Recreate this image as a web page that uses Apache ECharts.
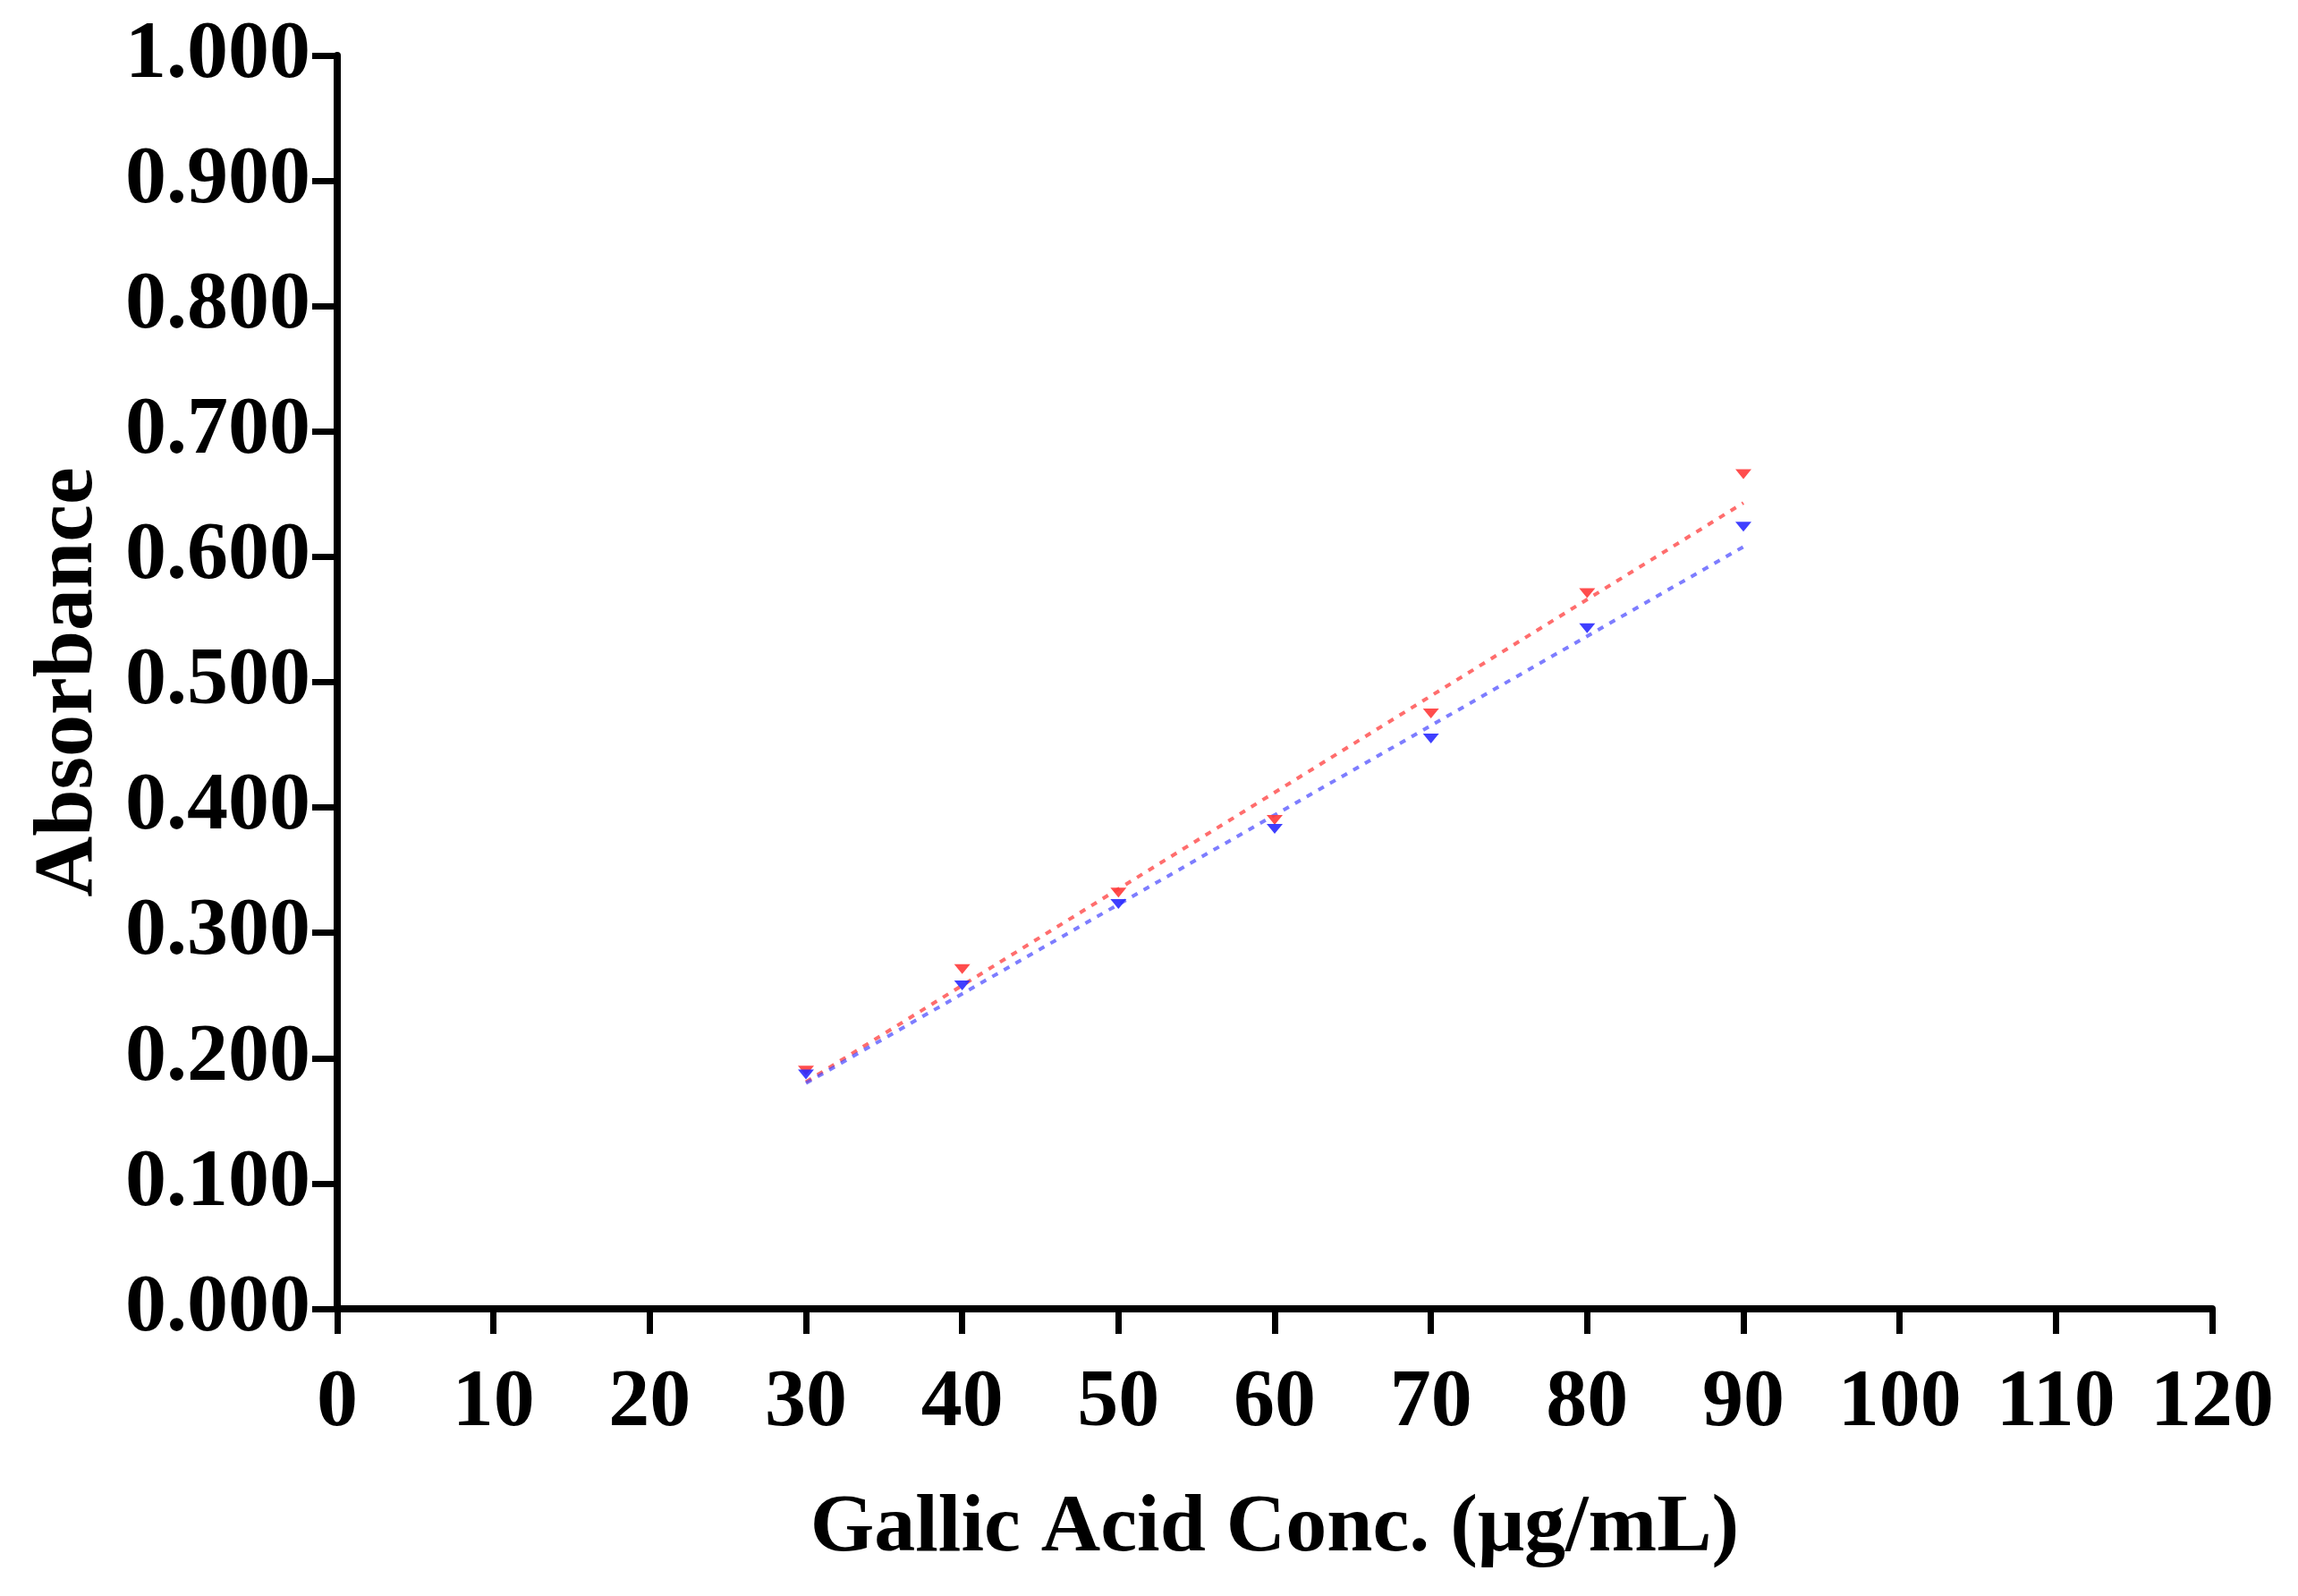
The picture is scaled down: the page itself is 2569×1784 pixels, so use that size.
<!DOCTYPE html>
<html>
<head>
<meta charset="utf-8">
<script src="https://cdn.jsdelivr.net/npm/echarts@6/dist/echarts.min.js"></script>
<style>
  html, body { margin: 0; padding: 0; background: #fff; }
  #chart { width: 2569px; height: 1784px; }
</style>
</head>
<body>
<div id="chart"></div>
<script>
// values
const concentrations = [30, 40, 50, 60, 70, 80, 90]
const absorbanceRed = [0.190, 0.271, 0.332, 0.390, 0.475, 0.571, 0.666]
const absorbanceBlue = [0.187, 0.258, 0.323, 0.383, 0.455, 0.543, 0.624]
// trend line end points (x, y) as drawn
const fitRed = [[30, 0.181], [90, 0.643]]
const fitBlue = [[30, 0.180], [90, 0.608]]

const xTitle = 'Gallic Acid Conc. (μg/mL)'
const yTitle = 'Absorbance'

const font = '"Liberation Serif", "DejaVu Serif", serif'

const pairs = (xs, ys) => xs.map((x, i) => [x, ys[i]])

const option = {
  backgroundColor: '#fff',
  animation: false,
  grid: { left: 377, top: 62, right: 96, bottom: 321, containLabel: false, outerBoundsMode: 'none' },
  xAxis: {
    type: 'value',
    min: 0,
    max: 120,
    interval: 10,
    name: xTitle,
    nameLocation: 'middle',
    nameGap: 200,
    nameTextStyle: { fontFamily: font, fontWeight: 'bold', fontSize: 92, color: '#000' },
    axisLine: { show: true, onZero: false, lineStyle: { color: '#000', width: 8 } },
    axisTick: { show: true, inside: false, length: 28, lineStyle: { color: '#000', width: 7 } },
    axisLabel: { margin: 60, fontFamily: font, fontWeight: 'bold', fontSize: 92, color: '#000' },
    splitLine: { show: false }
  },
  yAxis: {
    type: 'value',
    min: 0,
    max: 1,
    interval: 0.1,
    name: yTitle,
    nameLocation: 'middle',
    nameGap: 252,
    nameTextStyle: { fontFamily: font, fontWeight: 'bold', fontSize: 94, color: '#000' },
    axisLine: { show: true, onZero: false, lineStyle: { color: '#000', width: 8 } },
    axisTick: { show: true, inside: false, length: 28, lineStyle: { color: '#000', width: 7 } },
    axisLabel: {
      margin: 30,
      fontFamily: font,
      fontWeight: 'bold',
      fontSize: 92,
      color: '#000',
      formatter: v => v.toFixed(3)
    },
    splitLine: { show: false }
  },
  series: [
    {
      name: 'fit red',
      type: 'line',
      data: fitRed,
      symbol: 'none',
      lineStyle: { color: 'rgba(255,60,60,0.75)', width: 4, type: [7, 8] },
      z: 2
    },
    {
      name: 'fit blue',
      type: 'line',
      data: fitBlue,
      symbol: 'none',
      lineStyle: { color: 'rgba(70,70,255,0.7)', width: 4, type: [7, 8] },
      z: 2
    },
    {
      name: 'red',
      type: 'scatter',
      data: pairs(concentrations, absorbanceRed),
      symbol: 'triangle',
      symbolRotate: 180,
      symbolSize: [18, 11],
      itemStyle: { color: '#ff3a3a', opacity: 0.9 },
      z: 3
    },
    {
      name: 'blue',
      type: 'scatter',
      data: pairs(concentrations, absorbanceBlue),
      symbol: 'triangle',
      symbolRotate: 180,
      symbolSize: [18, 11],
      itemStyle: { color: '#2a2aff', opacity: 0.9 },
      z: 3
    }
  ]
}

const chart = echarts.init(document.getElementById('chart'))
chart.setOption(option)
</script>
</body>
</html>
